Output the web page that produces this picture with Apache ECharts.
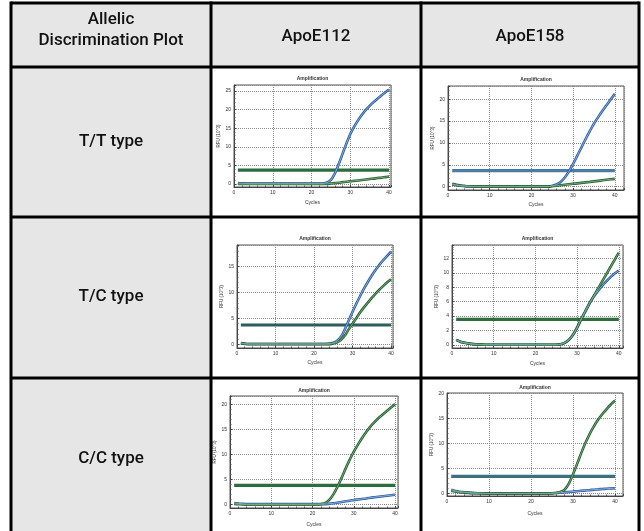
<!DOCTYPE html>
<html><head><meta charset="utf-8">
<script src="https://cdn.jsdelivr.net/npm/echarts@6/dist/echarts.min.js"></script>
<style>html,body{margin:0;padding:0;background:#fff;}#c{width:644px;height:531px;}</style>
</head><body><div id="c"></div>
<script>
// ---------- DATA ----------
const cycles = [1,2,3,4,5,6,7,8,9,10,11,12,13,14,15,16,17,18,19,20,21,22,23,24,25,26,27,28,29,30,31,32,33,34,35,36,37,38,39,40];
const cornerLabel = 'Allelic\nDiscrimination Plot';
const colLabels = ['ApoE112', 'ApoE158'];
const rowLabels = ['T/T type', 'T/C type', 'C/C type'];
const plotTitle = 'Amplification';
const xAxisName = 'Cycles';
const yAxisName = 'RFU (10^3)';
const xTickStep = 10;
const yTickSteps = [5, 5, 5, 2, 5, 5];
const thresholds = [3.75, 3.66, 3.74, 3.55, 3.87, 3.47];

// ApoE112, T/T
const e112_tt_blue  = [0.25,0.2,0.15,0.1,0.1,0.1,0.1,0.1,0.1,0.1,0.1,0.1,0.1,0.1,0.1,0.1,0.1,0.1,0.1,0.1,0.1,0.1,0.15,0.4,1.1,2.8,5.3,8.1,10.9,13.4,15.4,17.1,18.6,19.9,21.0,22.0,22.9,23.8,24.6,25.4];
const e112_tt_green = [0,0,0,0,0,0,0,0,0,0,0,0,0,0,0,0,0,0,0,0,0,0,0,0.05,0.15,0.25,0.35,0.5,0.6,0.75,0.85,0.95,1.1,1.2,1.35,1.45,1.6,1.7,1.85,2.0];
// ApoE158, T/T
const e158_tt_blue  = [0.5,0.35,0.22,0.14,0.08,0.05,0.03,0.03,0.03,0.03,0.03,0.03,0.03,0.03,0.03,0.03,0.03,0.03,0.03,0.03,0.03,0.03,0.03,0.03,0.2,0.5,1.1,2.1,3.5,5.2,7.1,9.0,10.9,12.7,14.4,15.9,17.3,18.6,19.9,21.2];
const e158_tt_green = [0.65,0.42,0.27,0.17,0.1,0.06,0.03,0.03,0.03,0.03,0.03,0.03,0.03,0.03,0.03,0.03,0.03,0.03,0.03,0.03,0.03,0.03,0.03,0.03,0.12,0.22,0.33,0.44,0.55,0.66,0.77,0.88,0.99,1.1,1.22,1.34,1.46,1.58,1.69,1.8];
// ApoE112, T/C
const e112_tc_blue  = [0.25,0.15,0.08,0.08,0.08,0.08,0.08,0.08,0.08,0.08,0.08,0.08,0.08,0.08,0.08,0.08,0.08,0.08,0.08,0.08,0.08,0.08,0.08,0.15,0.3,0.7,1.5,2.9,4.6,6.3,7.9,9.4,10.8,12.1,13.3,14.4,15.4,16.3,17.1,17.9];
const e112_tc_green = [0.15,0.1,0.05,0.05,0.05,0.05,0.05,0.05,0.05,0.05,0.05,0.05,0.05,0.05,0.05,0.05,0.05,0.05,0.05,0.05,0.05,0.05,0.05,0.05,0.2,0.4,0.9,1.7,2.9,4.0,5.1,6.2,7.2,8.1,9.0,9.8,10.6,11.3,12.0,12.6];
// ApoE158, T/C
const e158_tc_blue  = [0.7,0.45,0.3,0.2,0.12,0.08,0.05,0.03,0.03,0.03,0.03,0.03,0.03,0.03,0.03,0.03,0.03,0.03,0.03,0.03,0.03,0.03,0.03,0.03,0.03,0.1,0.3,0.7,1.4,2.4,3.6,4.7,5.8,6.7,7.5,8.2,8.8,9.4,9.9,10.3];
const e158_tc_green = [0.7,0.45,0.3,0.2,0.12,0.08,0.05,0.03,0.03,0.03,0.03,0.03,0.03,0.03,0.03,0.03,0.03,0.03,0.03,0.03,0.03,0.03,0.03,0.03,0.03,0.1,0.3,0.7,1.4,2.4,3.6,4.7,5.8,6.8,7.8,8.8,9.8,10.8,11.8,12.8];
// ApoE112, C/C
const e112_cc_blue  = [0.35,0.25,0.18,0.12,0.12,0.12,0.12,0.12,0.12,0.12,0.12,0.12,0.12,0.12,0.12,0.12,0.12,0.12,0.12,0.12,0.12,0.12,0.12,0.18,0.28,0.4,0.55,0.7,0.8,0.95,1.05,1.15,1.25,1.4,1.5,1.6,1.7,1.8,1.9,2.0];
const e112_cc_green = [0.15,0.1,0.05,0.05,0.05,0.05,0.05,0.05,0.05,0.05,0.05,0.05,0.05,0.05,0.05,0.05,0.05,0.05,0.05,0.05,0.05,0.1,0.3,0.9,2.0,3.5,5.3,7.2,9.0,10.6,12.0,13.3,14.5,15.6,16.5,17.3,18.0,18.7,19.4,20.1];
// ApoE158, C/C
const e158_cc_blue  = [0.8,0.55,0.4,0.3,0.22,0.16,0.12,0.09,0.07,0.05,0.05,0.05,0.05,0.05,0.05,0.05,0.05,0.05,0.05,0.05,0.05,0.05,0.05,0.05,0.1,0.15,0.2,0.28,0.35,0.42,0.5,0.58,0.65,0.72,0.8,0.87,0.94,1.0,1.05,1.1];
const e158_cc_green = [0.6,0.42,0.3,0.22,0.16,0.12,0.09,0.07,0.05,0.04,0.04,0.04,0.04,0.04,0.04,0.04,0.04,0.04,0.04,0.04,0.04,0.04,0.04,0.04,0.04,0.15,0.35,0.8,2.0,3.9,6.0,8.2,10.2,12.0,13.5,14.8,15.9,16.9,17.8,18.6];

// ---------- LAYOUT / STYLE ----------
const plotCurves = [
  [e112_tt_blue, e112_tt_green],
  [e158_tt_blue, e158_tt_green],
  [e112_tc_blue, e112_tc_green],
  [e158_tc_blue, e158_tc_green],
  [e112_cc_blue, e112_cc_green],
  [e158_cc_blue, e158_cc_green]
];
const thresholdColors = ['#2e6b3d', '#4a7aa8', '#2d5c5a', '#2e6b3d', '#2e6b3d', '#3c6f80'];
const layout = [
  {left:234, top:85,  width:157, height:102, xMax:40.5, yMin:-0.8,  yMax:26.6, titleY:79,  xNameGap:13, yNameGap:12},
  {left:448, top:86,  width:176, height:104, xMax:42.2, yMin:-0.75, yMax:23.0, titleY:80,  xNameGap:12, yNameGap:13},
  {left:237, top:245, width:156, height:103, xMax:40.5, yMin:-0.7,  yMax:19.2, titleY:239, xNameGap:12, yNameGap:13},
  {left:452, top:245, width:171, height:103, xMax:41.0, yMin:-0.42, yMax:13.85,titleY:239, xNameGap:13, yNameGap:12},
  {left:230, top:396, width:168, height:112, xMax:40.7, yMin:-0.66, yMax:21.7, titleY:391, xNameGap:14, yNameGap:13},
  {left:447, top:393, width:176, height:103, xMax:41.9, yMin:-0.46, yMax:20.1, titleY:388, xNameGap:15, yNameGap:11}
];
const blueOuter = '#2f5d9e', blueInner = '#86afe0';
const greenOuter = '#27602f', greenInner = '#74aa7e';
const tiny = 'Liberation Sans';

const grids = [], xAxes = [], yAxes = [], series = [];
layout.forEach((L, i) => {
  grids.push({left:L.left, top:L.top, width:L.width, height:L.height, show:true, borderColor:'#555', borderWidth:1, backgroundColor:'#fff', containLabel:false});
  xAxes.push({
    type:'value', gridIndex:i, min:0, max:L.xMax, interval:xTickStep,
    name:xAxisName, nameLocation:'middle', nameGap:L.xNameGap,
    nameTextStyle:{fontSize:5, color:'#333', fontFamily:tiny},
    axisLine:{show:true, onZero:false, lineStyle:{color:'#444', width:1}},
    axisTick:{show:true, inside:true, length:2, lineStyle:{color:'#444'}},
    minorTick:{show:true, splitNumber:5, length:1.5, lineStyle:{color:'#555'}},
    axisLabel:{fontSize:5, margin:3, color:'#333', fontFamily:tiny,
      formatter: v => (Math.abs(v / xTickStep - Math.round(v / xTickStep)) < 1e-6 ? String(Math.round(v)) : '')},
    splitLine:{show:true, lineStyle:{type:'dotted', color:'#8a8a8a', width:1}}
  });
  const st = yTickSteps[i];
  yAxes.push({
    type:'value', gridIndex:i, min:L.yMin, max:L.yMax, minInterval:st, maxInterval:st, splitNumber:5,
    name:yAxisName, nameLocation:'middle', nameGap:L.yNameGap, nameRotate:90,
    nameTextStyle:{fontSize:4.5, color:'#333', fontFamily:tiny},
    axisLine:{show:true, onZero:false, lineStyle:{color:'#444', width:1}},
    axisTick:{show:true, inside:true, length:2, lineStyle:{color:'#444'}},
    minorTick:{show:true, splitNumber:5, length:1.5, lineStyle:{color:'#555'}},
    axisLabel:{fontSize:5, margin:3, color:'#333', fontFamily:tiny,
      formatter: v => (Math.abs(v / st - Math.round(v / st)) < 1e-6 ? String(Math.round(v)) : '')},
    splitLine:{show:true, lineStyle:{type:'dotted', color:'#8a8a8a', width:1}}
  });
  const common = {type:'line', xAxisIndex:i, yAxisIndex:i, showSymbol:false, symbol:'none', silent:true, animation:false};
  series.push(Object.assign({}, common, {
    data:[[cycles[0], thresholds[i]], [cycles[cycles.length - 1], thresholds[i]]],
    lineStyle:{color:thresholdColors[i], width:3.2}, z:2
  }));
  const [blue, green] = plotCurves[i];
  const pairs = [[blue, blueOuter, blueInner], [green, greenOuter, greenInner]];
  pairs.forEach(([vals, oc, ic]) => {
    const data = cycles.map((c, k) => [c, vals[k]]);
    series.push(Object.assign({}, common, {data, smooth:0.35, lineStyle:{color:oc, width:2.6}, z:3}));
    series.push(Object.assign({}, common, {data, smooth:0.35, lineStyle:{color:ic, width:1}, z:4}));
  });
});

// ---------- TABLE ----------
const colX = [11, 211, 421, 639];
const rowY = [3, 67, 217, 378, 531];
const gray = '#e6e6e6';
const graphic = [];
graphic.push({type:'rect', z:-10, shape:{x:colX[0], y:rowY[0], width:colX[3]-colX[0], height:rowY[1]-rowY[0]}, style:{fill:gray}});
graphic.push({type:'rect', z:-10, shape:{x:colX[0], y:rowY[1], width:colX[1]-colX[0], height:rowY[4]-rowY[1]}, style:{fill:gray}});
colX.forEach(x => graphic.push({type:'line', z:50, shape:{x1:x, y1:rowY[0]-1.5, x2:x, y2:rowY[4]}, style:{stroke:'#000', lineWidth:3}}));
rowY.slice(0, 4).forEach(y => graphic.push({type:'line', z:50, shape:{x1:colX[0], y1:y, x2:colX[3], y2:y}, style:{stroke:'#000', lineWidth:3}}));
const bigFont = '500 17px Roboto';
graphic.push({type:'text', z:60, x:(colX[0]+colX[1])/2, y:30, style:{text:cornerLabel, font:bigFont, fill:'#111', align:'center', verticalAlign:'middle', lineHeight:21}});
colLabels.forEach((t, j) => graphic.push({type:'text', z:60, x:(colX[j+1]+colX[j+2])/2, y:37, style:{text:t, font:bigFont, fill:'#111', align:'center', verticalAlign:'middle'}}));
const rowCenters = [142, 297, 459];
rowLabels.forEach((t, r) => graphic.push({type:'text', z:60, x:(colX[0]+colX[1])/2, y:rowCenters[r], style:{text:t, font:bigFont, fill:'#111', align:'center', verticalAlign:'middle'}}));
layout.forEach(L => graphic.push({type:'text', z:60, x:L.left + L.width/2, y:L.titleY, style:{text:plotTitle, font:'bold 5px ' + tiny, fill:'#333', align:'center', verticalAlign:'middle'}}));

const chart = echarts.init(document.getElementById('c'), null, {renderer:'canvas'});
chart.setOption({
  animation:false,
  backgroundColor:'#fff',
  grid:grids, xAxis:xAxes, yAxis:yAxes, series:series, graphic:graphic
});
</script></body></html>
